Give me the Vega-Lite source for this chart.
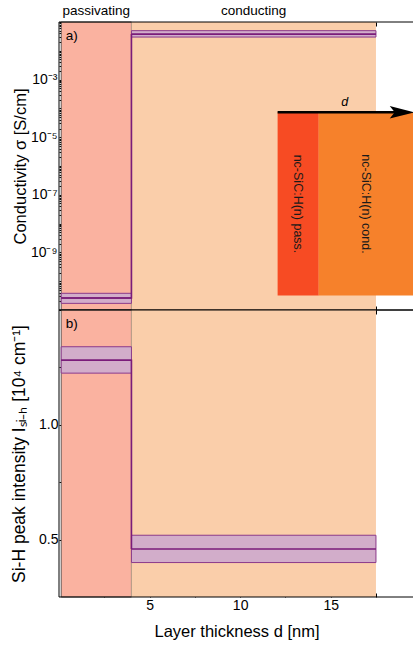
{
  "$schema": "https://vega.github.io/schema/vega-lite/v6.json",
  "padding": {"left": 9, "top": 4, "right": 0, "bottom": 0},
  "spacing": 0,
  "bounds": "flush",
  "config": {
    "font": "Liberation Sans",
    "view": {"stroke": null},
    "axis": {"domain": false, "grid": false, "zindex": 1, "tickColor": "black", "tickWidth": 1, "labelColor": "black", "titleColor": "black", "labelFont": "Liberation Sans", "titleFont": "Liberation Sans", "labelFontSize": 14, "titleFontSize": 16.5, "titleFontWeight": "normal"}
  },
  "datasets": {
    "regions": [
      {"region": "passivating", "x0": 0.12, "x1": 4, "xc": 2.06},
      {"region": "conducting", "x0": 4, "x1": 17.5, "xc": 10.75}
    ],
    "cond": [
      {"phase": "passivating", "x0": 0.12, "x1": 4, "lo": 1.7e-11, "mid": 2.6e-11, "hi": 3.8e-11},
      {"phase": "conducting", "x0": 4, "x1": 17.5, "lo": 0.030, "mid": 0.038, "hi": 0.050}
    ],
    "sih": [
      {"phase": "passivating", "x0": 0.12, "x1": 4, "lo": 1.225, "mid": 1.281, "hi": 1.340},
      {"phase": "conducting", "x0": 4, "x1": 17.5, "lo": 0.400, "mid": 0.459, "hi": 0.519}
    ],
    "inset": [
      {"layer": "nc-SiC:H(n) pass.", "x0": 12.07, "x1": 14.34, "xc": 13.2, "lo": 3.2e-11, "hi": 7.3e-5, "yc": 4.8e-8},
      {"layer": "nc-SiC:H(n) cond.", "x0": 14.34, "x1": 19.6, "xc": 16.97, "lo": 3.2e-11, "hi": 7.3e-5, "yc": 4.8e-8}
    ],
    "arrow": [
      {"x0": 12.07, "x1": 18.6, "tip": 18.95, "y": 7.3e-5, "lx": 15.77, "ly": 1.66e-4, "label": "d"}
    ]
  },
  "vconcat": [
    {
      "width": 355,
      "height": 288,
      "resolve": {"axis": {"x": "independent"}},
      "layer": [
        {
          "data": {"name": "regions"},
          "mark": {"type": "rect", "strokeWidth": 0.8},
          "encoding": {
            "x": {"field": "x0", "type": "quantitative", "scale": {"domain": [0, 19.6], "nice": false, "zero": false},
                  "axis": {"orient": "bottom", "values": [2.5, 5, 7.5, 10, 12.5, 15, 17.5], "labels": false, "title": null, "tickSize": -4}},
            "x2": {"field": "x1"},
            "color": {"field": "region", "type": "nominal", "scale": {"domain": ["passivating", "conducting"], "range": ["#FAB2A0", "#FACEAA"]}, "legend": null},
            "stroke": {"condition": {"test": "datum.region === 'passivating'", "value": "#3a3a3a"}, "value": "transparent"}
          }
        },
        {
          "data": {"name": "inset"},
          "mark": {"type": "rect"},
          "encoding": {
            "x": {"field": "x0", "type": "quantitative", "axis": null},
            "x2": {"field": "x1"},
            "y": {"field": "lo", "type": "quantitative", "scale": {"type": "log", "domain": [1e-11, 0.1], "nice": false},
                  "axis": {"values": [1e-11,2e-11,3e-11,4e-11,5e-11,6e-11,7e-11,8e-11,9e-11,1e-10,2e-10,3e-10,4e-10,5e-10,6e-10,7e-10,8e-10,9e-10,1e-9,2e-9,3e-9,4e-9,5e-9,6e-9,7e-9,8e-9,9e-9,1e-8,2e-8,3e-8,4e-8,5e-8,6e-8,7e-8,8e-8,9e-8,1e-7,2e-7,3e-7,4e-7,5e-7,6e-7,7e-7,8e-7,9e-7,1e-6,2e-6,3e-6,4e-6,5e-6,6e-6,7e-6,8e-6,9e-6,1e-5,2e-5,3e-5,4e-5,5e-5,6e-5,7e-5,8e-5,9e-5,1e-4,2e-4,3e-4,4e-4,5e-4,6e-4,7e-4,8e-4,9e-4,1e-3,2e-3,3e-3,4e-3,5e-3,6e-3,7e-3,8e-3,9e-3,1e-2,2e-2,3e-2,4e-2,5e-2,6e-2,7e-2,8e-2,9e-2,0.1],
                           "labelExpr": "datum.value === 0.001 ? '10⁻³' : datum.value === 0.00001 ? '10⁻⁵' : datum.value === 0.0000001 ? '10⁻⁷' : datum.value === 0.000000001 ? '10⁻⁹' : ''",
                           "labelOverlap": false,
                           "labelPadding": 5,
                           "tickSize": -3,
                           "title": "Conductivity σ [S/cm]", "titleX": -31}},
            "y2": {"field": "hi"},
            "fill": {"field": "layer", "type": "nominal", "scale": {"domain": ["nc-SiC:H(n) pass.", "nc-SiC:H(n) cond."], "range": ["#F74B23", "#F6812B"]}, "legend": null}
          }
        },
        {
          "data": {"name": "inset"},
          "mark": {"type": "text", "angle": 90, "align": "center", "baseline": "middle", "fontSize": 12.5, "color": "#1a1a1a"},
          "encoding": {
            "x": {"field": "xc", "type": "quantitative", "axis": null},
            "y": {"field": "yc", "type": "quantitative"},
            "text": {"field": "layer"}
          }
        },
        {
          "data": {"name": "cond"},
          "mark": {"type": "rect", "fill": "#D2ADCA", "stroke": "#8B3A8B", "strokeWidth": 1},
          "encoding": {
            "x": {"field": "x0", "type": "quantitative",
                  "axis": {"orient": "top", "values": [2.5, 5, 7.5, 10, 12.5, 15, 17.5], "labels": false, "title": null, "tickSize": -4}},
            "x2": {"field": "x1"},
            "y": {"field": "lo", "type": "quantitative"},
            "y2": {"field": "hi"}
          }
        },
        {
          "data": {"name": "cond"},
          "mark": {"type": "rule", "color": "#7A1C7A", "strokeWidth": 1.6},
          "encoding": {
            "x": {"field": "x0", "type": "quantitative", "axis": null},
            "x2": {"field": "x1"},
            "y": {"field": "mid", "type": "quantitative"}
          }
        },
        {
          "data": {"name": "cond"},
          "mark": {"type": "line", "interpolate": "step-after", "color": "#7A1C7A", "strokeWidth": 1.6},
          "encoding": {
            "x": {"field": "x0", "type": "quantitative", "axis": null},
            "y": {"field": "mid", "type": "quantitative"}
          }
        },
        {
          "data": {"name": "arrow"},
          "mark": {"type": "rule", "color": "black", "strokeWidth": 2.5},
          "encoding": {
            "x": {"field": "x0", "type": "quantitative", "axis": null},
            "x2": {"field": "x1"},
            "y": {"field": "y", "type": "quantitative"}
          }
        },
        {
          "data": {"name": "arrow"},
          "mark": {"type": "point", "shape": "M -1 -0.5 L 1 0 L -1 0.5 L -0.6 0 Z", "filled": true, "color": "black", "opacity": 1, "size": 625},
          "encoding": {
            "x": {"field": "tip", "type": "quantitative", "axis": null},
            "y": {"field": "y", "type": "quantitative"}
          }
        },
        {
          "data": {"name": "arrow"},
          "mark": {"type": "text", "fontStyle": "italic", "fontSize": 12.5, "align": "center", "baseline": "middle", "color": "black"},
          "encoding": {
            "x": {"field": "lx", "type": "quantitative", "axis": null},
            "y": {"field": "ly", "type": "quantitative"},
            "text": {"field": "label"}
          }
        },
        {
          "data": {"name": "regions"},
          "mark": {"type": "text", "fontSize": 13.5, "align": "center", "baseline": "bottom", "dy": -4, "color": "black"},
          "encoding": {
            "x": {"field": "xc", "type": "quantitative", "axis": null},
            "y": {"datum": 0.1, "type": "quantitative"},
            "text": {"field": "region"}
          }
        },
        {
          "data": {"values": [{"p": "a)"}]},
          "mark": {"type": "text", "fontSize": 13.5, "align": "left", "baseline": "middle", "color": "black"},
          "encoding": {
            "x": {"datum": 0.37, "type": "quantitative", "axis": null},
            "y": {"datum": 0.032, "type": "quantitative"},
            "text": {"field": "p"}
          }
        },
        {
          "data": {"values": [{"edge": "top", "y": 0.1}, {"edge": "bottom", "y": 1e-11}]},
          "mark": {"type": "rule", "color": "black", "strokeWidth": 1},
          "encoding": {
            "x": {"datum": 0, "type": "quantitative", "axis": null},
            "x2": {"datum": 19.6},
            "y": {"field": "y", "type": "quantitative"}
          }
        },
        {
          "data": {"values": [{"edge": "left"}]},
          "mark": {"type": "rule", "color": "black", "strokeWidth": 1},
          "encoding": {
            "x": {"datum": 0, "type": "quantitative", "axis": null},
            "y": {"datum": 1e-11, "type": "quantitative"},
            "y2": {"datum": 0.1}
          }
        }
      ]
    },
    {
      "width": 355,
      "height": 287,
      "resolve": {"axis": {"x": "independent"}},
      "layer": [
        {
          "data": {"name": "regions"},
          "mark": {"type": "rect", "strokeWidth": 0.8},
          "encoding": {
            "x": {"field": "x0", "type": "quantitative", "scale": {"domain": [0, 19.6], "nice": false, "zero": false},
                  "axis": {"orient": "bottom", "values": [2.5, 5, 7.5, 10, 12.5, 15, 17.5],
                           "labelExpr": "datum.value % 5 === 0 ? format(datum.value, 'd') : ''",
                           "labelPadding": 5,
                           "tickSize": -4,
                           "title": "Layer thickness d [nm]", "titlePadding": 11}},
            "x2": {"field": "x1"},
            "color": {"field": "region", "type": "nominal", "scale": {"domain": ["passivating", "conducting"], "range": ["#FAB2A0", "#FACEAA"]}, "legend": null},
            "stroke": {"condition": {"test": "datum.region === 'passivating'", "value": "#3a3a3a"}, "value": "transparent"}
          }
        },
        {
          "data": {"name": "sih"},
          "mark": {"type": "rect", "fill": "#D2ADCA", "stroke": "#8B3A8B", "strokeWidth": 1},
          "encoding": {
            "x": {"field": "x0", "type": "quantitative",
                  "axis": {"orient": "top", "values": [2.5, 5, 7.5, 10, 12.5, 15, 17.5], "labels": false, "title": null, "tickSize": -4}},
            "x2": {"field": "x1"},
            "y": {"field": "lo", "type": "quantitative", "scale": {"domain": [0.25, 1.5], "nice": false, "zero": false},
                  "axis": {"values": [0.5, 0.75, 1.0, 1.25],
                           "labelExpr": "datum.value === 0.5 || datum.value === 1 ? format(datum.value, '.1f') : ''",
                           "labelPadding": 5,
                           "tickSize": -4,
                           "titleFontSize": 17.5,
                           "title": "Si-H peak intensity Iₛᵢ₋ₕ [10⁴ cm⁻¹]", "titleX": -31}},
            "y2": {"field": "hi"}
          }
        },
        {
          "data": {"name": "sih"},
          "mark": {"type": "rule", "color": "#7A1C7A", "strokeWidth": 1.6},
          "encoding": {
            "x": {"field": "x0", "type": "quantitative", "axis": null},
            "x2": {"field": "x1"},
            "y": {"field": "mid", "type": "quantitative"}
          }
        },
        {
          "data": {"name": "sih"},
          "mark": {"type": "line", "interpolate": "step-after", "color": "#7A1C7A", "strokeWidth": 1.6},
          "encoding": {
            "x": {"field": "x0", "type": "quantitative", "axis": null},
            "y": {"field": "mid", "type": "quantitative"}
          }
        },
        {
          "data": {"values": [{"p": "b)"}]},
          "mark": {"type": "text", "fontSize": 13.5, "align": "left", "baseline": "middle", "color": "black"},
          "encoding": {
            "x": {"datum": 0.37, "type": "quantitative", "axis": null},
            "y": {"datum": 1.44, "type": "quantitative"},
            "text": {"field": "p"}
          }
        },
        {
          "data": {"values": [{"edge": "top", "y": 1.5}, {"edge": "bottom", "y": 0.25}]},
          "mark": {"type": "rule", "color": "black", "strokeWidth": 1},
          "encoding": {
            "x": {"datum": 0, "type": "quantitative", "axis": null},
            "x2": {"datum": 19.6},
            "y": {"field": "y", "type": "quantitative"}
          }
        },
        {
          "data": {"values": [{"edge": "left"}]},
          "mark": {"type": "rule", "color": "black", "strokeWidth": 1},
          "encoding": {
            "x": {"datum": 0, "type": "quantitative", "axis": null},
            "y": {"datum": 0.25, "type": "quantitative"},
            "y2": {"datum": 1.5}
          }
        }
      ]
    }
  ]
}
